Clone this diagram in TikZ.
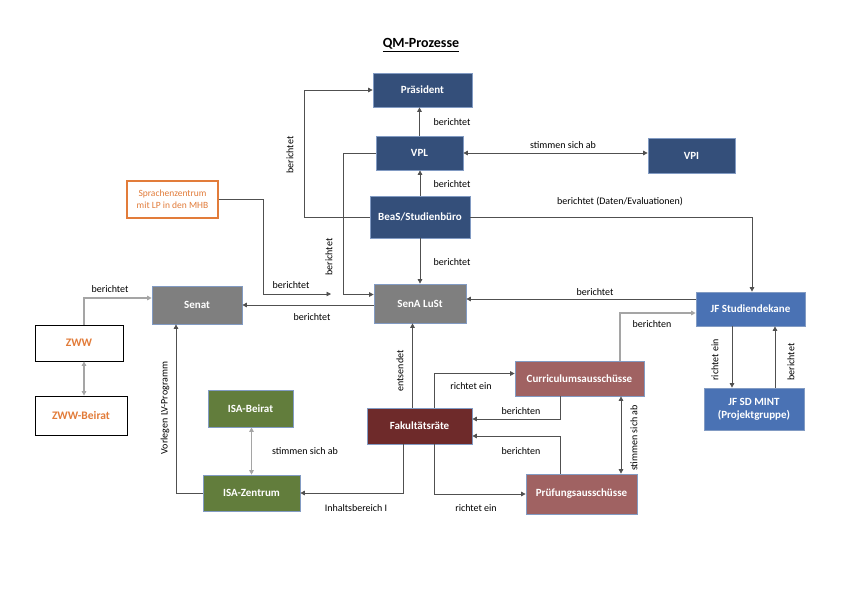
\documentclass[tikz,border=0pt]{standalone}
\usepackage{fontspec}
\setmainfont{Carlito}
\usetikzlibrary{arrows.meta}
\definecolor{navy}{RGB}{52,79,122}
\definecolor{boxgrey}{RGB}{127,127,127}
\definecolor{jfblue}{RGB}{74,114,180}
\definecolor{isagreen}{RGB}{98,125,60}
\definecolor{fakred}{RGB}{110,42,42}
\definecolor{ausrose}{RGB}{160,98,98}
\definecolor{zwworange}{RGB}{226,124,58}
\definecolor{boxline}{RGB}{130,155,195}
\definecolor{linegrey}{RGB}{80,80,80}
\definecolor{softgrey}{RGB}{165,165,165}

\begin{document}
\begin{tikzpicture}[x=1pt,y=-1pt,
  box/.style={draw=boxline, line width=0.7pt, text=white, align=center, inner sep=2pt, font=\bfseries\fontsize{11}{13}\selectfont},
  navybox/.style={box, fill=navy}, greybox/.style={box, fill=boxgrey}, bluebox/.style={box, fill=jfblue},
  greenbox/.style={box, fill=isagreen}, redbox/.style={box, fill=fakred}, rosebox/.style={box, fill=ausrose},
  whitebox/.style={draw=black, line width=0.8pt, fill=white, text=zwworange, align=center, inner sep=2pt, font=\bfseries\fontsize{11.5}{13}\selectfont},
  link/.style={draw=linegrey, line width=0.8pt, -{Triangle[length=4.5pt,width=4.5pt]}},
  twoway/.style={link, {Triangle[length=4.5pt,width=4.5pt]}-{Triangle[length=4.5pt,width=4.5pt]}},
  soft/.style={link, draw=softgrey, line width=1.3pt},
  softtwo/.style={twoway, draw=softgrey, line width=1.3pt},
  lbl/.style={font=\fontsize{10}{12}\selectfont, inner sep=1pt}]
  \useasboundingbox (0,0) rectangle (841,595);
  \node[font=\bfseries\fontsize{14}{16}\selectfont] (title) at (421,45) {\underline{QM-Prozesse}};

  \node[navybox, minimum width=99pt, minimum height=34pt] (praes) at (422.5,90) {Präsident};
  \node[navybox, minimum width=87pt, minimum height=34pt] (vpl) at (419.5,153) {VPL};
  \node[navybox, minimum width=87pt, minimum height=35pt] (vpi) at (691.5,155.5) {VPI};
  \node[navybox, minimum width=100pt, minimum height=42pt] (beas) at (420,217) {BeaS/Studienbüro};
  \node[whitebox, draw=zwworange, line width=1.1pt, font=\fontsize{9.5}{12}\selectfont, minimum width=91pt, minimum height=37pt] (sprach) at (172.5,199.5) {Sprachenzentrum\\mit LP in den MHB};
  \node[greybox, minimum width=90pt, minimum height=38pt] (senat) at (197,305) {Senat};
  \node[greybox, minimum width=92pt, minimum height=39pt] (sena) at (420,303.5) {SenA LuSt};
  \node[bluebox, minimum width=109pt, minimum height=34pt] (jfsd) at (750.5,309) {JF Studiendekane};
  \node[bluebox, minimum width=100pt, minimum height=42pt] (mint) at (754,409) {JF SD MINT\\(Projektgruppe)};
  \node[whitebox, minimum width=88pt, minimum height=36pt] (zww) at (79,343) {ZWW};
  \node[whitebox, minimum width=92pt, minimum height=39pt] (zwwb) at (81,415.5) {ZWW-Beirat};
  \node[greenbox, minimum width=85pt, minimum height=37pt] (isab) at (250.5,408.5) {ISA-Beirat};
  \node[greenbox, minimum width=97pt, minimum height=36pt] (isaz) at (251.5,493) {ISA-Zentrum};
  \node[redbox, minimum width=105pt, minimum height=36pt] (fak) at (419.5,426) {Fakultätsräte};
  \node[rosebox, minimum width=129pt, minimum height=35pt] (cur) at (579.5,378.5) {Curriculumsausschüsse};
  \node[rosebox, minimum width=111pt, minimum height=40pt] (pru) at (581.5,494) {Prüfungsausschüsse};
  \coordinate (szend) at (331,294);

  \draw[link] (vpl.north) -- (vpl.north |- praes.south); \draw[link] (beas.north) -- (beas.north |- vpl.south);
  \draw[twoway] (vpl.east) -- (vpl.east -| vpi.west);
  \draw[link] (beas.west) -- ++(-65,0) |- (praes.west); \draw[link] (vpl.west) -- ++(-32,0) |- ([yshift=9pt]sena.west);
  \draw[link] (sprach.east) -- ++(45,0) |- (szend); \draw[link] (beas.south) -- (beas.south |- sena.north);
  \draw[link] (beas.east) -| ([xshift=1.5pt]jfsd.north); \draw[link] ([yshift=10pt]jfsd.west) -- ([yshift=10pt]jfsd.west -| sena.east);
  \draw[link] (sena.west |- senat.east) -- (senat.east);
  \draw[soft] ([xshift=5pt]zww.north) |- ([yshift=7pt]senat.west); \draw[softtwo] ([xshift=5pt]zww.south) -- ([xshift=5pt]zww.south |- zwwb.north);
  \draw[link] (isaz.west) -| ([xshift=-21pt]senat.south); \draw[softtwo] (isab.south -| isaz.north) -- (isaz.north);
  \draw[link] ([xshift=-7pt]fak.north) -- ([xshift=-7pt]fak.north |- sena.south); \draw[link] ([xshift=-16pt]fak.south) |- (isaz.east);
  \draw[link] ([xshift=14.5pt]fak.north) |- ([yshift=5pt]cur.west); \draw[link] ([xshift=-19.5pt]cur.south) |- ([yshift=7pt]fak.east);
  \draw[link] ([xshift=-21.5pt]pru.north) |- ([yshift=-10pt]fak.east); \draw[link] ([xshift=14.5pt]fak.south) |- (pru.west);
  \draw[twoway] ([xshift=41.5pt]cur.south) -- ([xshift=41.5pt]cur.south |- pru.north);
  \draw[soft] ([xshift=40.5pt]cur.north) |- ([yshift=-4pt]jfsd.west);
  \draw[link] ([xshift=-18.5pt]jfsd.south) -- ([xshift=-18.5pt]jfsd.south |- mint.north); \draw[link] ([xshift=24.5pt]jfsd.south |- mint.north) -- ([xshift=24.5pt]jfsd.south);

  \node[lbl] (lpraes) at (452,122) {berichtet}; \node[lbl] (lvpl) at (452,184) {berichtet}; \node[lbl] (lvpi) at (563,145) {stimmen sich ab};
  \node[lbl, rotate=90] (lbeas) at (290,155) {berichtet}; \node[lbl, rotate=90] (lvplsena) at (329,257) {berichtet};
  \node[lbl] (lsprach) at (291,285) {berichtet}; \node[lbl] (lsena) at (452,262) {berichtet};
  \node[lbl] (ldaten) at (620,202) {berichtet (Daten/Evaluationen)}; \node[lbl] (ljf) at (595,292) {berichtet};
  \node[lbl] (lsenat) at (312,317) {berichtet}; \node[lbl] (lzww) at (110,289) {berichtet};
  \node[lbl, rotate=90] (llv) at (165,408) {Vorlegen LV-Programm}; \node[lbl] (lisa) at (305,451) {stimmen sich ab};
  \node[lbl, rotate=90] (lents) at (400,371) {entsendet}; \node[lbl] (linh) at (356,508) {Inhaltsbereich I};
  \node[lbl] (lcur) at (471,386) {richtet ein}; \node[lbl] (lber1) at (521,411) {berichten}; \node[lbl] (lber2) at (521,451) {berichten};
  \node[lbl] (lpru) at (476,508) {richtet ein}; \node[lbl, rotate=90] (lcp) at (634,438) {stimmen sich ab};
  \node[lbl] (ljfc) at (652,324) {berichten}; \node[lbl, rotate=90] (lmint1) at (715,360) {richtet ein}; \node[lbl, rotate=90] (lmint2) at (791,362) {berichtet};
\end{tikzpicture}
\end{document}
